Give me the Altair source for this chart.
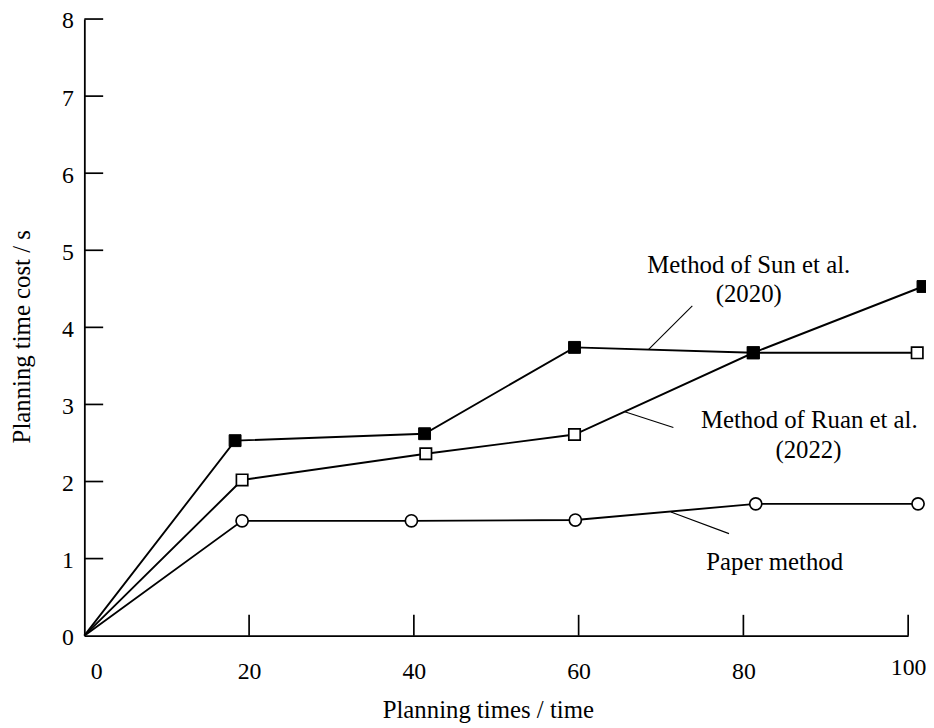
import altair as alt
import pandas as pd

# ---- data ----
x_ticks = [0, 20, 40, 60, 80, 100]
y_ticks = [0, 1, 2, 3, 4, 5, 6, 7, 8]

sun_x = [0, 18.3, 41.3, 59.5, 81.2, 101.8]
sun_y = [0, 2.53, 2.62, 3.74, 3.67, 4.53]
ruan_x = [0, 19.15, 41.45, 59.5, 81.2, 101.1]
ruan_y = [0, 2.02, 2.36, 2.61, 3.67, 3.67]
paper_x = [0, 19.15, 39.7, 59.6, 81.5, 101.2]
paper_y = [0, 1.49, 1.49, 1.50, 1.71, 1.71]

series_names = ["Sun", "Ruan", "Paper"]

# annotation text (one row per text line) and leader lines
label_text = ["Method of Sun et al.", "(2020)", "Method of Ruan et al.", "(2022)", "Paper method"]
label_x = [80.65, 80.65, 88.0, 87.9, 83.8]
label_y = [4.705, 4.33, 2.696, 2.31, 0.852]

leader_x = [73.8, 65.6, 71.2]
leader_y = [4.28, 2.905, 1.603]
leader_x2 = [68.5, 71.5, 78.25]
leader_y2 = [3.715, 2.70, 1.324]

# ---- tables ----
rows = []
for name, xs_, ys_ in zip(series_names, [sun_x, ruan_x, paper_x], [sun_y, ruan_y, paper_y]):
    for i, (a, b) in enumerate(zip(xs_, ys_)):
        rows.append({"series": name, "idx": i, "x": a, "y": b})
df = pd.DataFrame(rows)
pts = df[df["idx"] > 0]

labels_df = pd.DataFrame({"text": label_text, "x": label_x, "y": label_y})
leaders_df = pd.DataFrame({"x": leader_x, "y": leader_y, "x2": leader_x2, "y2": leader_y2})
xt_df = pd.DataFrame({"x": x_ticks[1:]})
yt_df = pd.DataFrame({"y": y_ticks[1:]})

FONT = "Liberation Serif"
W, H = 831, 622

xs = alt.Scale(domain=[0, 100], nice=False, zero=False)
ys = alt.Scale(domain=[0, 8], nice=False, zero=False)

x_axis = alt.Axis(
    title="Planning times / time", values=x_ticks, format="d",
    ticks=False, tickSize=0, grid=False,
    domainColor="black", domainWidth=1.8,
    labelFont=FONT, labelFontSize=24, labelColor="black",
    labelPadding={"condition": {"test": "datum.value === 100", "value": 20}, "value": 24},
    labelOffset={"condition": {"test": "datum.value === 0", "value": 12}, "value": 0},
    labelFlush=False, labelOverlap=False,
    titleFont=FONT, titleFontSize=25, titleFontWeight="normal", titleColor="black",
    titleX=407, titleY=83, titleAlign="center", titleBaseline="alphabetic",
)
y_axis = alt.Axis(
    title="Planning time cost / s", values=y_ticks, format="d",
    ticks=False, tickSize=0, grid=False,
    domainColor="black", domainWidth=1.8,
    labelFont=FONT, labelFontSize=24, labelColor="black",
    labelPadding=11, labelOffset=2, labelFlush=False, labelOverlap=False,
    titleFont=FONT, titleFontSize=25, titleFontWeight="normal", titleColor="black",
    titleX=-63, titleY=320, titleAlign="center", titleBaseline="middle", titleAngle=270,
)


def X(field="x"):
    return alt.X(f"{field}:Q", scale=xs, axis=x_axis)


def Y(field="y"):
    return alt.Y(f"{field}:Q", scale=ys, axis=y_axis)


lines = alt.Chart(df).mark_line(color="black", strokeWidth=1.9).encode(
    x=X(), y=Y(), detail="series:N", order="idx:Q",
)

leaders = alt.Chart(leaders_df).mark_rule(color="black", strokeWidth=1.1).encode(
    x=X(), y=Y(), x2="x2:Q", y2="y2:Q",
)

paper_pts = alt.Chart(pts[pts["series"] == "Paper"]).mark_point(
    shape="circle", size=150, fill="white", fillOpacity=1, stroke="black",
    strokeWidth=1.7, opacity=1,
).encode(x=X(), y=Y())

ruan_pts = alt.Chart(pts[pts["series"] == "Ruan"]).mark_point(
    shape="square", size=132, fill="white", fillOpacity=1, stroke="black",
    strokeWidth=1.7, opacity=1,
).encode(x=X(), y=Y())

sun_pts = alt.Chart(pts[pts["series"] == "Sun"]).mark_point(
    shape="square", size=144, filled=True, fill="black", fillOpacity=1, stroke="black",
    strokeWidth=1, opacity=1,
).encode(x=X(), y=Y())

xticks = alt.Chart(xt_df).mark_rule(color="black", strokeWidth=1.7).encode(
    x=X(), y=alt.value(H), y2=alt.value(H - 21),
)
yticks = alt.Chart(yt_df).mark_rule(color="black", strokeWidth=1.7).encode(
    y=Y(), x=alt.value(0), x2=alt.value(19),
)

texts = alt.Chart(labels_df).mark_text(
    font=FONT, fontSize=25, align="center", baseline="alphabetic", color="black",
).encode(x=X(), y=Y(), text="text:N")

chart = alt.layer(
    lines, leaders, xticks, yticks, paper_pts, ruan_pts, sun_pts, texts
).properties(
    width=W,
    height=H,
    autosize=alt.AutoSizeParams(type="none"),
    padding={"left": 77, "top": 8, "right": 18, "bottom": 90},
    background="white",
).configure(
    font=FONT,
    view=alt.ViewConfig(stroke="transparent"),
)

chart.save("out.html", embed_options={"renderer": "svg", "actions": False})
